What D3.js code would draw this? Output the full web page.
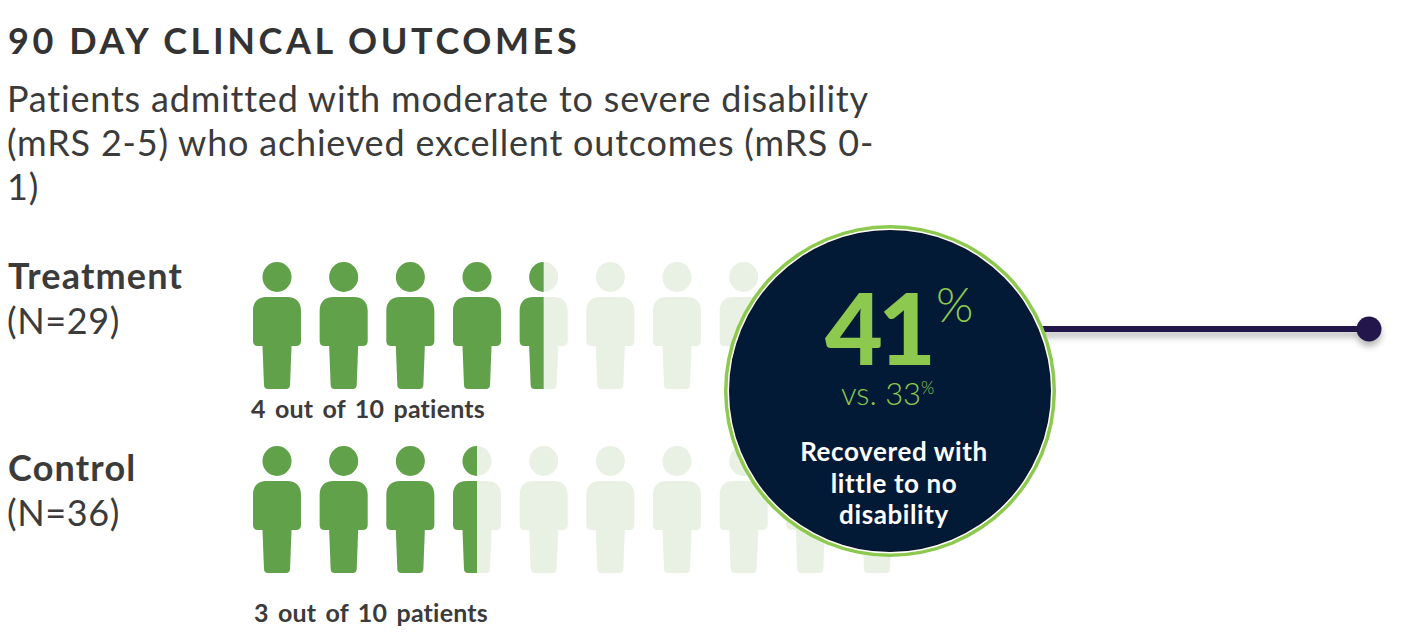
<!DOCTYPE html>
<html>
<head>
<meta charset="utf-8">
<script src="https://cdn.jsdelivr.net/npm/d3@7"></script>
<style>
  body { margin: 0; background: #fff; }
  svg { display: block; font-family: Lato, sans-serif; }
</style>
</head>
<body>
<svg width="1405" height="643"></svg>
<script>
// chart values
const groups = ["Treatment", "Control"];
const sampleSizes = [29, 36];
const filledIcons = [4.5, 3.5];   // as drawn in the picture
const outcomeLabels = ["4 out of 10 patients", "3 out of 10 patients"];
const percents = [41, 33];
const iconSlots = d3.range(10);
const subtitleLines = [
  "Patients admitted with moderate to severe disability",
  "(mRS 2-5) who achieved excellent outcomes (mRS 0-",
  "1)"
];
const calloutLines = ["Recovered with", "little to no", "disability"];

const svg = d3.select("svg");
const textColor = "#3b3b3b";
const green = "#61a14a";
const paleGreen = "#e8f1e4";
const lime = "#8dc94e";
const navy = "#031a37";

// scales
const x = d3.scaleLinear().domain([0, 9]).range([277, 877]);
const rowY = d3.scaleOrdinal().domain(groups).range([262, 446]);
const iconW = 48;

const defs = svg.append("defs");
const shadow = defs.append("filter").attr("id", "shadow")
  .attr("x", "-20%").attr("y", "-200%").attr("width", "140%").attr("height", "500%");
shadow.append("feDropShadow")
  .attr("dx", 0).attr("dy", 5).attr("stdDeviation", 3)
  .attr("flood-color", "#000").attr("flood-opacity", 0.28);

// title + subtitle
svg.append("text")
  .attr("x", 8).attr("y", 54)
  .attr("font-size", 36).attr("font-weight", 700)
  .attr("letter-spacing", 3.6)
  .attr("fill", "#333")
  .text("90 DAY CLINCAL OUTCOMES");

svg.append("g").selectAll("text")
  .data(subtitleLines)
  .join("text")
  .attr("x", 7)
  .attr("y", (d, i) => 112 + i * 44)
  .attr("font-size", 36)
  .attr("letter-spacing", 0.8)
  .attr("fill", textColor)
  .text(d => d);

// person shape, centred on 0, top of head at 0
const personBody = "M-24,49 C-24,39 -18,35 -10,35 L10,35 C18,35 24,39 24,49 L24,79 Q24,84 19,84 " +
  "L14.5,84 L13,123 Q12.8,127 9,127 L-9,127 Q-12.8,127 -13,123 L-14.5,84 L-19,84 Q-24,84 -24,79 Z";

function drawPerson(sel, color) {
  sel.append("ellipse").attr("cx", 0).attr("cy", 15).attr("rx", 14.5).attr("ry", 15).attr("fill", color);
  sel.append("path").attr("d", personBody).attr("fill", color);
}

groups.forEach((grp, gi) => {
  const top = rowY(grp);
  const labelY = gi === 0 ? 289 : 481;

  svg.append("text")
    .attr("x", 8).attr("y", labelY)
    .attr("font-size", 36).attr("font-weight", 700)
    .attr("letter-spacing", 1.2)
    .attr("fill", textColor)
    .text(grp);
  svg.append("text")
    .attr("x", 7).attr("y", labelY + 45)
    .attr("font-size", 36)
    .attr("letter-spacing", 0.6)
    .attr("fill", textColor)
    .text(`(N=${sampleSizes[gi]})`);

  // clip for the filled part of the row
  const f = filledIcons[gi];
  const edge = x(Math.floor(f)) - iconW / 2 + (f % 1) * iconW;
  defs.append("clipPath").attr("id", "fill-" + gi)
    .append("rect")
    .attr("x", 0).attr("y", top - 5)
    .attr("width", edge).attr("height", 140);

  const row = svg.append("g");
  row.selectAll("g.pale")
    .data(iconSlots)
    .join("g")
    .attr("class", "pale")
    .attr("transform", d => `translate(${x(d)},${top})`)
    .each(function() { drawPerson(d3.select(this), paleGreen); });

  row.append("g")
    .attr("clip-path", `url(#fill-${gi})`)
    .selectAll("g")
    .data(iconSlots.filter(d => d < Math.ceil(f)))
    .join("g")
    .attr("transform", d => `translate(${x(d)},${top})`)
    .each(function() { drawPerson(d3.select(this), green); });

  svg.append("text")
    .attr("x", gi === 0 ? 251 : 254)
    .attr("y", gi === 0 ? 418 : 622)
    .attr("font-size", 25).attr("font-weight", 700)
    .attr("word-spacing", 3)
    .attr("letter-spacing", 0.2)
    .attr("fill", textColor)
    .text(outcomeLabels[gi]);
});

// callout line and dot
const cx = 890, cy = 391;
const lineY = 329, dotX = 1369;
const callout = svg.append("g").attr("filter", "url(#shadow)");
callout.append("line")
  .attr("x1", cx).attr("x2", dotX)
  .attr("y1", lineY).attr("y2", lineY)
  .attr("stroke", "#22194b").attr("stroke-width", 6);
callout.append("circle")
  .attr("cx", dotX).attr("cy", lineY).attr("r", 12.5)
  .attr("fill", "#22194b");

// badge
const badge = svg.append("g").attr("transform", `translate(${cx},${cy})`);
badge.append("circle").attr("r", 166).attr("fill", lime);
badge.append("circle").attr("r", 162.5).attr("fill", "#fff");
badge.append("circle").attr("r", 161).attr("fill", "#0a1428");
badge.append("circle").attr("r", 160).attr("fill", navy);

const big = badge.append("text")
  .attr("y", -26)
  .attr("fill", lime);
big.append("tspan")
  .attr("x", -65)
  .attr("font-size", 100).attr("font-weight", 900)
  .attr("letter-spacing", -5)
  .text(percents[0]);
big.append("tspan")
  .attr("x", 46).attr("dy", -43)
  .attr("font-size", 48).attr("font-weight", 300)
  .text("%");

const vs = badge.append("text")
  .attr("x", -49).attr("y", 14)
  .attr("font-size", 31).attr("font-weight", 300)
  .attr("fill", lime);
vs.append("tspan").text(`vs. ${percents[1]}`);
vs.append("tspan").attr("font-size", 17).attr("dy", -11).text("%");

badge.append("g").selectAll("text")
  .data(calloutLines)
  .join("text")
  .attr("x", 4)
  .attr("y", (d, i) => 70 + i * 31.5)
  .attr("text-anchor", "middle")
  .attr("font-size", 26).attr("font-weight", 700)
  .attr("letter-spacing", 0.6)
  .attr("fill", "#fff")
  .text(d => d);
</script>
</body>
</html>
